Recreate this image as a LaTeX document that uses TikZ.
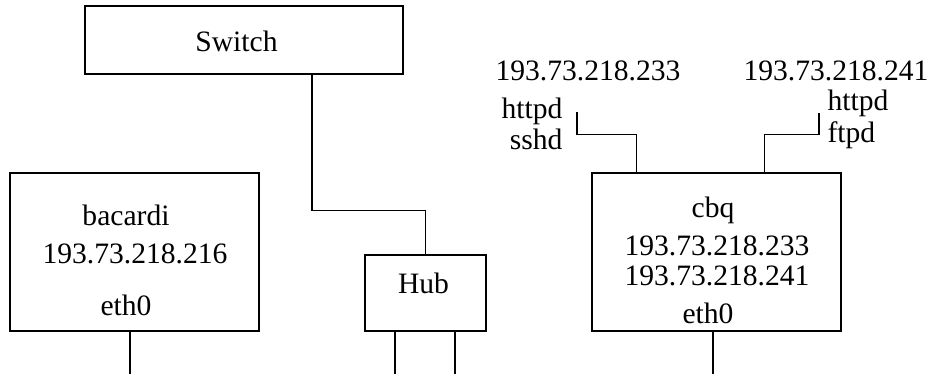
\documentclass[tikz,border=0pt]{standalone}
\usepackage{fontspec}
\setmainfont{Liberation Serif}
\usetikzlibrary{calc}
\begin{document}
\begin{tikzpicture}[x=0.5pt,y=-0.5pt,line width=0.6pt,font=\fontsize{14.8}{15}\selectfont]
	\tikzstyle{box}=[draw,rectangle,inner sep=0pt,line width=0.6pt]
	\tikzstyle{host}=[box,minimum width=124.5pt,minimum height=79pt]
	\tikzstyle{txt}=[inner sep=0pt,anchor=base]
	\tikzstyle{txtr}=[inner sep=0pt,anchor=base east]
	\tikzstyle{txtl}=[inner sep=0pt,anchor=base west]
	\useasboundingbox (0,0) rectangle (932,374);
	
	\node [box,minimum width=159pt,minimum height=34pt] (switch) at (244,40) {};
	\node [txt] (switchname) at (236.5,52) {Switch};
	
	\node [box,minimum width=60.5pt,minimum height=38pt] (hub) at (425.5,293) {};
	\node [txt] (hubname) at (423.5,293) {Hub};
	
	\node [host] (bacardi) at (134.5,252) {};
	\node [txt] (bacardiname) at (126,225) {bacardi};
	\node [txt] (bacardiip) at (135,263) {193.73.218.216};
	\node [txt] (bacardieth) at (126,315) {eth0};
	
	\node [host] (cbq) at (716.5,252) {};
	\node [txt] (cbqname) at (713,218) {cbq};
	\node [txt] (cbqipa) at (717,255) {193.73.218.233};
	\node [txt] (cbqipb) at (717,285) {193.73.218.241};
	\node [txt] (cbqeth) at (708,323) {eth0};
	
	\node [txt] (ipa) at (588,81) {193.73.218.233};
	\node [txtr] (httpda) at (563,119) {httpd};
	\node [txtr] (sshda) at (563,149) {sshd};
	\node [txt] (ipb) at (836,81) {193.73.218.241};
	\node [txtl] (httpdb) at (827,111) {httpd};
	\node [txtl] (ftpdb) at (827,142) {ftpd};
	\coordinate (tapa) at (577,112);
	\coordinate (tapb) at (819,113);
	
	\draw ($(switch.south)+(68,0)$) -- ++(0,136) -| (hub.north);
	\draw ($(hub.south)+(-30.5,0)$) -- ++(0,43);
	\draw ($(hub.south)+(29.5,0)$) -- ++(0,43);
	\draw ($(bacardi.south)+(-4.5,0)$) -- ++(0,43);
	\draw ($(cbq.south)+(-3.5,0)$) -- ++(0,43);
	\draw ($(cbq.north west)+(45,0)$) -- ++(0,-38) -| (tapa);
	\draw ($(cbq.north west)+(173,0)$) -- ++(0,-38) -| (tapb);
\end{tikzpicture}
\end{document}
